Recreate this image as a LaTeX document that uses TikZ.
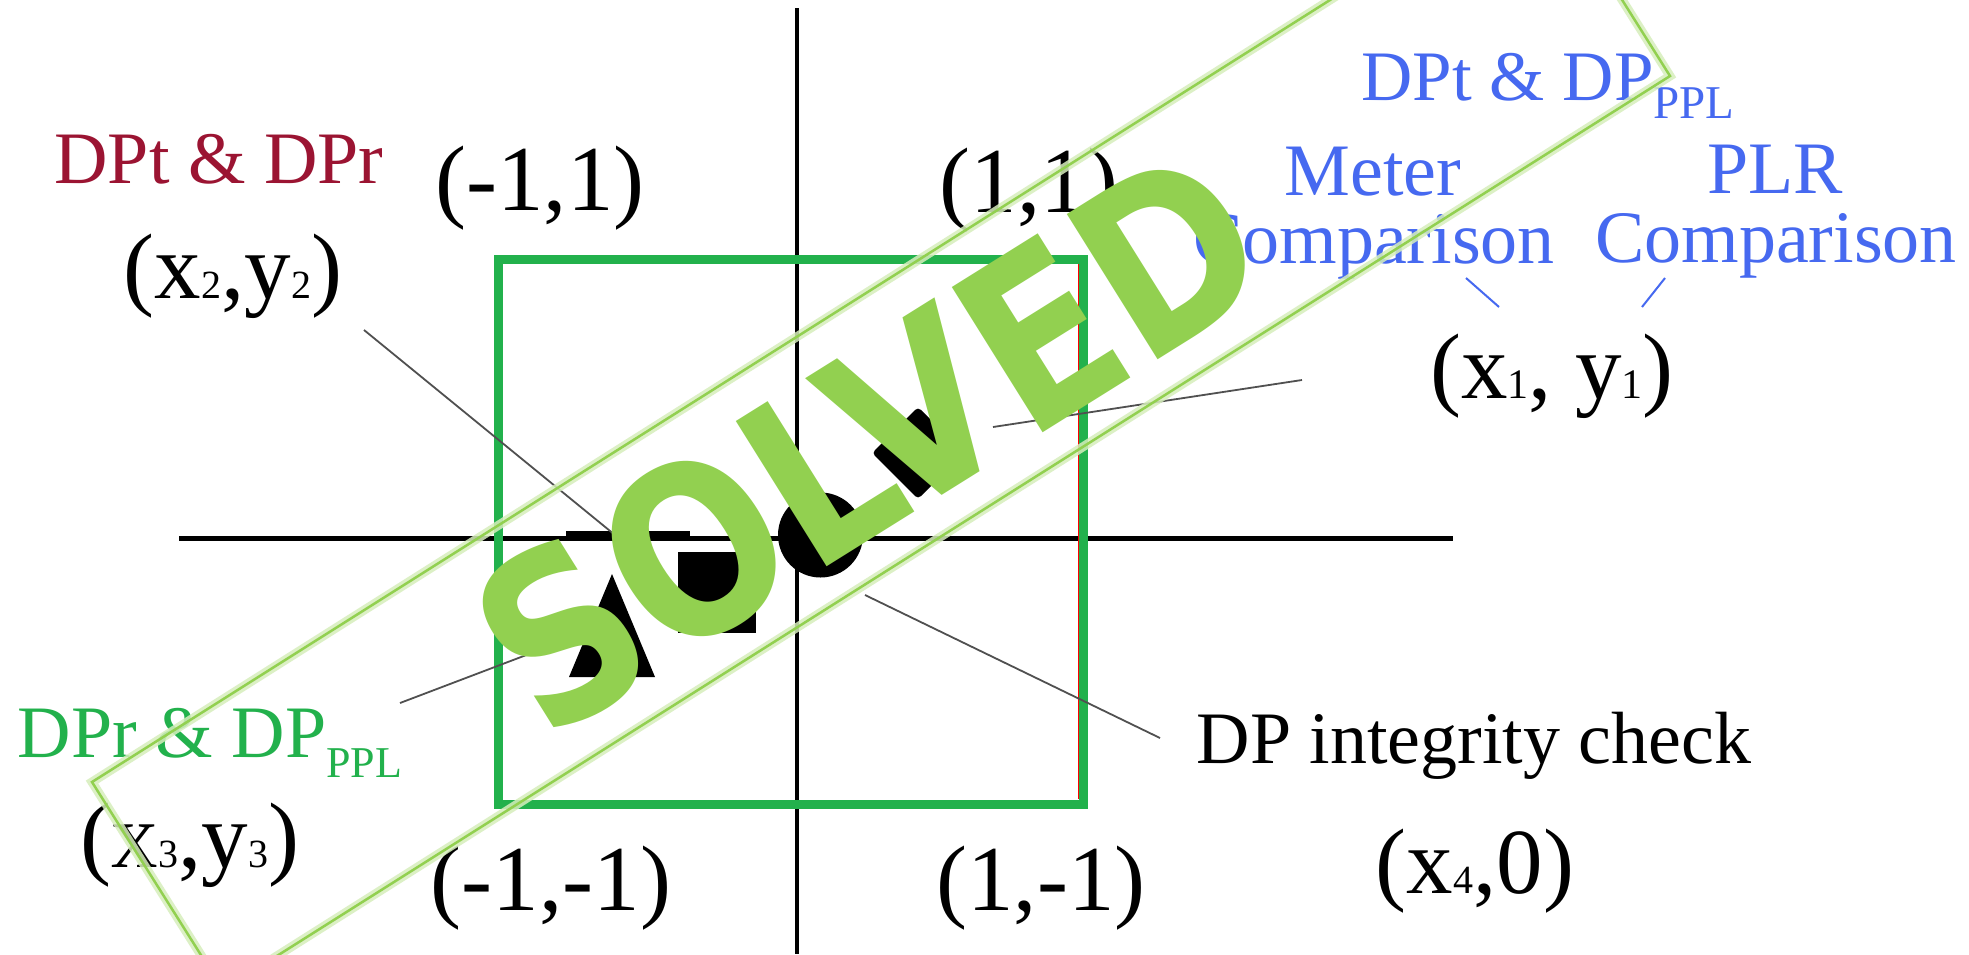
\documentclass[tikz,border=0pt]{standalone}
\usepackage{fontspec}
\setmainfont{Liberation Serif}
\newfontfamily\wmfont{DejaVu Sans}
\definecolor{dpred}{RGB}{155,20,50}
\definecolor{dpblue}{RGB}{70,105,240}
\definecolor{dpgreen}{RGB}{34,177,76}
\definecolor{wmgreen}{RGB}{146,208,80}
\definecolor{wmglow}{RGB}{214,238,188}
\definecolor{leadgray}{RGB}{80,80,80}
\newcommand\fsz[1]{\fontsize{#1}{#1}\selectfont}
\newcommand\mysub[2]{{\fsz{#1}#2}}
\begin{document}
\begin{tikzpicture}[x=1pt,y=-1pt,
  lbl/.style={anchor=base, inner sep=0pt, outer sep=0pt},
  coord/.style={lbl, font=\fsz{93}},
  caption/.style={lbl, font=\fsz{74}},
  axisline/.style={line width=5pt, black},
  leader/.style={line width=1.8pt, leadgray},
  tick/.style={line width=2pt, dpblue},
  blk/.style={fill=black, draw=none},
]
\fill[white] (0,0) rectangle (1969,954);
\useasboundingbox (0,0) rectangle (1969,954);
\clip (0,0) rectangle (1969,954);

% axes
\coordinate (hL) at (179,538);
\coordinate (hR) at (1453,538);
\coordinate (vT) at (797,8);
\coordinate (vB) at (797,954);
\draw[axisline] (hL) -- (hR);
\draw[axisline, line width=4pt] (vT) -- (vB);

% green square
\node[draw=dpgreen, line width=9pt, minimum width=585pt, minimum height=545pt, inner sep=0pt] (box) at (790.5,531.5) {};
\draw[red, line width=1pt] (1078.5,264) -- (1078.5,799);

% markers
\fill[blk] (566,531) rectangle (690,540);
\fill[blk] (678,552) rectangle (756,633);
\fill[blk] (612,574) -- (569,677) -- (655,677) -- cycle;
\fill[blk] (820.5,535) circle (42.5);
\fill[blk, rounded corners=4pt] (918,407) -- (964,453) -- (918,499) -- (872,453) -- cycle;

% leader lines
\coordinate (l2a) at (364,330); \coordinate (l2b) at (615,535);
\coordinate (l1a) at (1302,380); \coordinate (l1b) at (993,427);
\coordinate (l3a) at (400,703); \coordinate (l3b) at (550,646);
\coordinate (l4a) at (865,595); \coordinate (l4b) at (1160,738);
\draw[leader] (l2a) -- (l2b);
\draw[leader] (l1a) -- (l1b);
\draw[leader] (l3a) -- (l3b);
\draw[leader] (l4a) -- (l4b);
\coordinate (k1a) at (1466,278); \coordinate (k1b) at (1499,307);
\coordinate (k2a) at (1665,278); \coordinate (k2b) at (1642,307);
\draw[tick] (k1a) -- (k1b);
\draw[tick] (k2a) -- (k2b);

% labels
\node[caption, text=dpred] (tr) at (219,183) {DPt \& DPr};
\node[coord] (cnw) at (540,210) {(-1,1)};
\node[coord] (cne) at (1029,212) {(1,1)};
\node[coord] (p2) at (233,298) {(x\mysub{40}{2},y\mysub{40}{2})};
\node[coord] (p1) at (1552,398) {(x\mysub{42}{1}, y\mysub{42}{1})};
\node[coord] (p3) at (190,867) {(x\mysub{40}{3},y\mysub{40}{3})};
\node[coord] (csw) at (551,910) {(-1,-1)};
\node[coord] (cse) at (1041,910) {(1,-1)};
\node[coord] (p4) at (1475,893) {(x\mysub{40}{4},0)};

\node[lbl, text=dpblue, font=\fsz{71}] (tb) at (1548,100) {DPt \& DP\raisebox{-18pt}{\fsz{47}PPL}};
\node[caption, text=dpblue] (m1) at (1373,195) {Meter};
\node[caption, text=dpblue] (m2) at (1374,263) {Comparison};
\node[caption, text=dpblue] (r1) at (1775,193) {PLR};
\node[caption, text=dpblue] (r2) at (1776,262) {Comparison};
\node[caption] (ic) at (1474,763) {DP integrity check};
\node[caption, text=dpgreen] (tg) at (210,757) {DPr \& DP\raisebox{-20pt}{\fsz{44}PPL}};

% watermark
\coordinate (wA) at (92,782);
\coordinate (wB) at (1539,-132);
\coordinate (wC) at (1670,76);
\coordinate (wD) at (223,990);
\draw[wmglow, line width=9pt, opacity=0.85] (wA) -- (wB) -- (wC) -- (wD) -- cycle;
\draw[wmgreen, line width=2.5pt] (wA) -- (wB) -- (wC) -- (wD) -- cycle;
\node[rotate=32, xscale=0.85, inner sep=0pt, text=wmgreen, font=\wmfont\bfseries\fsz{235}] (solved) at (869,440) {SOLVED};
\end{tikzpicture}
\end{document}
